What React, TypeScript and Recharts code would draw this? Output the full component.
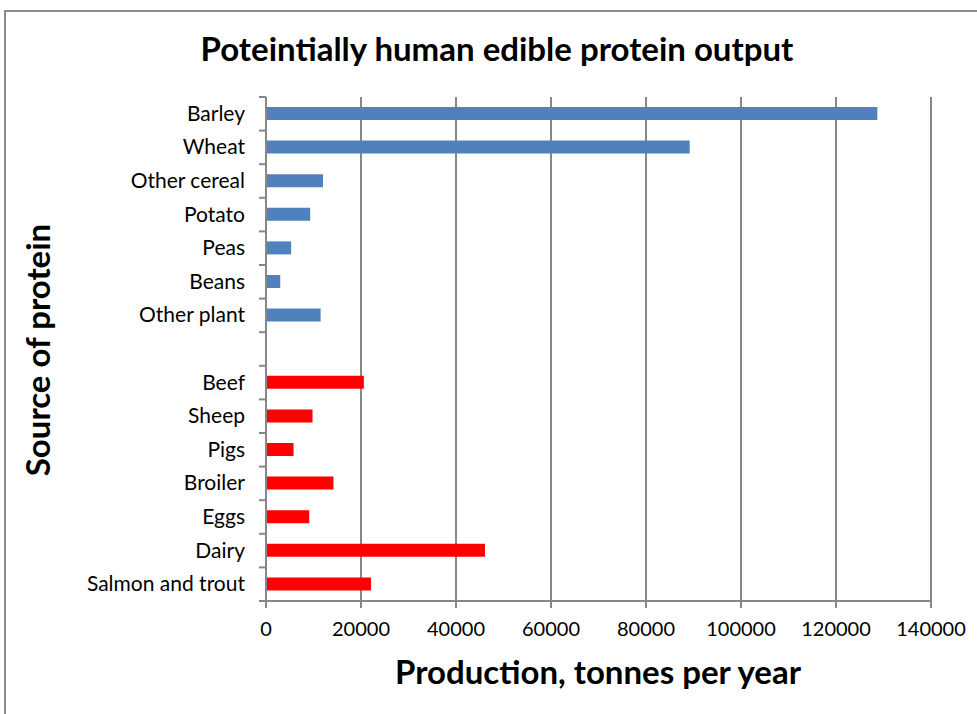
import React from "react";
import { BarChart, Bar, XAxis, YAxis, CartesianGrid } from "recharts";

const categories = [
  "Barley",
  "Wheat",
  "Other cereal",
  "Potato",
  "Peas",
  "Beans",
  "Other plant",
  "",
  "Beef",
  "Sheep",
  "Pigs",
  "Broiler",
  "Eggs",
  "Dairy",
  "Salmon and trout",
];

const plantValues = [128700, 89200, 12000, 9300, 5300, 3000, 11500, null, null, null, null, null, null, null, null];
const animalValues = [null, null, null, null, null, null, null, null, 20600, 9800, 5800, 14200, 9100, 46100, 22100];

const xTicks = [0, 20000, 40000, 60000, 80000, 100000, 120000, 140000];

const data = categories.map((name, i) => ({
  name,
  plant: plantValues[i],
  animal: animalValues[i],
}));

const W = 977;
const H = 714;
const TOP = 97;
const X_AXIS_H = 60;
const BOTTOM = 113 - X_AXIS_H;
const AXIS_W = 266;
const RIGHT = 46;
const band = (H - TOP - 113) / categories.length;
const gray = "#878787";
const font = "Lato, 'Open Sans', sans-serif";

// category labels plus the Excel-style ticks that sit between categories
function CategoryTick(props: any) {
  const { x, y, payload, index } = props;
  const last = index === categories.length - 1;
  return (
    <g>
      <line x1={x - 7} x2={x} y1={y - band / 2} y2={y - band / 2} stroke={gray} strokeWidth={2} />
      {last && <line x1={x - 7} x2={x} y1={y + band / 2} y2={y + band / 2} stroke={gray} strokeWidth={2} />}
      <text x={x - 21} y={y} dy={7} textAnchor="end" fontSize={21} fill="#000" fontFamily={font}>
        {payload.value}
      </text>
    </g>
  );
}

export default function App() {
  return (
    <div style={{ position: "absolute", left: 0, top: 0, width: W, height: H, overflow: "hidden", background: "#fff", fontFamily: font }}>
      <div
        style={{
          position: "absolute",
          left: 4,
          top: 10,
          width: 1000,
          height: 1000,
          border: "2px solid #8c8c8c",
          boxSizing: "border-box",
        }}
      />
      <div
        style={{
          position: "absolute",
          left: 0,
          width: 994,
          top: 28,
          textAlign: "center",
          fontSize: 33,
          fontWeight: 700,
          color: "#000",
        }}
      >
        Poteintially human edible protein output
      </div>
      <div style={{ position: "absolute", left: 0, top: 0 }}>
        <BarChart
          width={W}
          height={H}
          data={data}
          layout="vertical"
          margin={{ top: TOP, bottom: BOTTOM, left: 0, right: RIGHT }}
          barSize={13}
        >
          <CartesianGrid horizontal={false} stroke={gray} strokeWidth={2} />
          <XAxis
            type="number"
            domain={[0, 140000]}
            ticks={xTicks}
            interval={0}
            axisLine={{ stroke: gray, strokeWidth: 2 }}
            tickLine={{ stroke: gray, strokeWidth: 2 }}
            tickSize={7}
            tickMargin={14}
            tick={{ fontSize: 20, fill: "#000", fontFamily: font }}
            height={X_AXIS_H}
          />
          <YAxis
            type="category"
            dataKey="name"
            width={AXIS_W}
            axisLine={{ stroke: gray, strokeWidth: 2 }}
            tickLine={false}
            tickSize={0}
            tickMargin={0}
            interval={0}
            tick={<CategoryTick />}
          />
          <Bar dataKey="plant" stackId="a" fill="#4F81BD" isAnimationActive={false} />
          <Bar dataKey="animal" stackId="a" fill="#FF0000" isAnimationActive={false} />
        </BarChart>
      </div>
      <div
        style={{
          position: "absolute",
          left: 0,
          width: 1196,
          top: 651,
          textAlign: "center",
          fontSize: 33,
          fontWeight: 700,
          color: "#000",
        }}
      >
        Production, tonnes per year
      </div>
      <div
        style={{
          position: "absolute",
          left: 37,
          top: 350,
          transform: "translate(-50%, -50%) rotate(-90deg)",
          whiteSpace: "nowrap",
          fontSize: 33,
          fontWeight: 700,
          color: "#000",
        }}
      >
        Source of protein
      </div>
    </div>
  );
}
